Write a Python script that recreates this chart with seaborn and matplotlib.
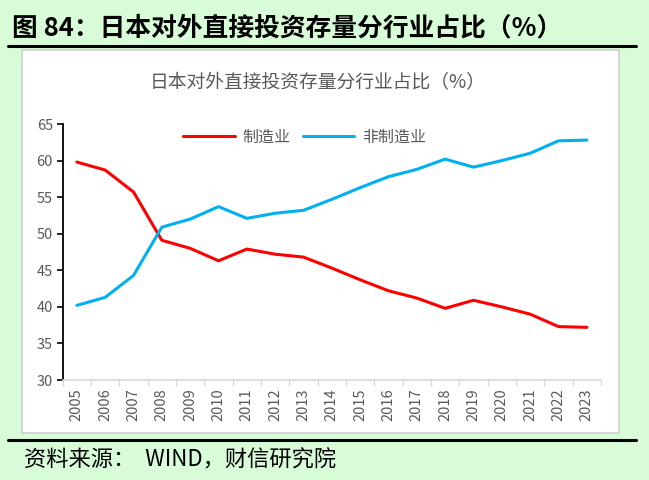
import seaborn as sns
import pandas as pd
import matplotlib.pyplot as plt
from matplotlib.patches import Rectangle
from matplotlib.lines import Line2D
from matplotlib.ticker import FixedLocator

# 数据
years = [str(y) for y in range(2005, 2024)]
manufacturing = [59.8, 58.7, 55.7, 49.1, 48.0, 46.3, 47.9, 47.2, 46.8, 45.3,
                 43.7, 42.2, 41.2, 39.8, 40.9, 40.0, 39.0, 37.3, 37.2]
non_manufacturing = [40.2, 41.3, 44.3, 50.9, 52.0, 53.7, 52.1, 52.8, 53.2, 54.7,
                     56.3, 57.8, 58.8, 60.2, 59.1, 60.0, 61.0, 62.7, 62.8]
series_names = ["制造业", "非制造业"]
y_ticks = [30, 35, 40, 45, 50, 55, 60, 65]

df = pd.DataFrame({
    "年份": years * 2,
    "占比": manufacturing + non_manufacturing,
    "类别": [series_names[0]] * len(years) + [series_names[1]] * len(years),
})
df["pos"] = list(range(len(years))) * 2

sns.set_style("white")
plt.rcParams["font.family"] = ["Noto Sans CJK SC", "DejaVu Sans"]

grey = "#595959"
bg = "#d8fcd8"
colors = {"制造业": "#ff0000", "非制造业": "#00b0f0"}

fig = plt.figure(figsize=(6.49, 4.8), dpi=100, facecolor=bg)

# 白色图表区
panel = Rectangle((22 / 649, 1 - 433 / 480), 597 / 649, 383 / 480,
                  transform=fig.transFigure, facecolor="white",
                  edgecolor="#d0d0d0", linewidth=1.2, zorder=-10)
fig.patches.append(panel)
# 标题与来源的黑线
fig.add_artist(Line2D([8 / 649, 636 / 649], [1 - 46 / 480] * 2,
                      transform=fig.transFigure, color="black", linewidth=2.2))
fig.add_artist(Line2D([8 / 649, 636 / 649], [1 - 440 / 480] * 2,
                      transform=fig.transFigure, color="black", linewidth=2.2))

fig.text(12 / 649, 1 - 28 / 480, "图 84：日本对外直接投资存量分行业占比（%）",
         fontsize=18.5, fontweight="bold", color="black", va="center", ha="left")
fig.text(24 / 649, 1 - 460 / 480, "资料来源：  WIND，财信研究院",
         fontsize=16, style="italic", color="black", va="center", ha="left")
fig.text(318 / 649, 1 - 83 / 480, "日本对外直接投资存量分行业占比（%）",
         fontsize=13.5, color=grey, va="center", ha="center")

ax = fig.add_axes([62.7 / 649, 1 - 380 / 480, 538.3 / 649, 256 / 480])
ax.set_facecolor("white")

sns.lineplot(data=df, x="pos", y="占比", hue="类别", palette=colors,
             linewidth=2.2, ax=ax, legend=False)

ax.set_xlim(-0.5, len(years) - 0.5)
ax.set_ylim(30, 65)
ax.set_yticks(y_ticks)
ax.set_xticks(range(len(years)))
ax.set_xticklabels(years, rotation=90)
ax.xaxis.set_minor_locator(FixedLocator([i - 0.5 for i in range(len(years) + 1)]))
ax.set_xlabel("")
ax.set_ylabel("")

ax.tick_params(axis="y", direction="out", length=4, width=1.2, color="black",
               labelsize=10.5, labelcolor=grey, pad=3, left=True)
ax.tick_params(axis="x", which="major", length=0, labelsize=10.5,
               labelcolor=grey, pad=6)
ax.tick_params(axis="x", which="minor", direction="out", length=4,
               color="#d9d9d9", width=1, bottom=True)

for side in ["top", "right"]:
    ax.spines[side].set_visible(False)
ax.spines["left"].set_color("black")
ax.spines["left"].set_linewidth(1.3)
ax.spines["bottom"].set_color("#d9d9d9")
ax.spines["bottom"].set_linewidth(1.2)

handles = [Line2D([], [], color=colors[n], linewidth=2.2) for n in series_names]
ax.legend(handles, series_names, loc="center", bbox_to_anchor=(0.45, 0.95),
          ncol=2, frameon=False, fontsize=11.5, labelcolor=grey,
          handlelength=3.2, columnspacing=0.8, handletextpad=0.5)

fig.savefig("out.png", dpi=100, facecolor=bg)
